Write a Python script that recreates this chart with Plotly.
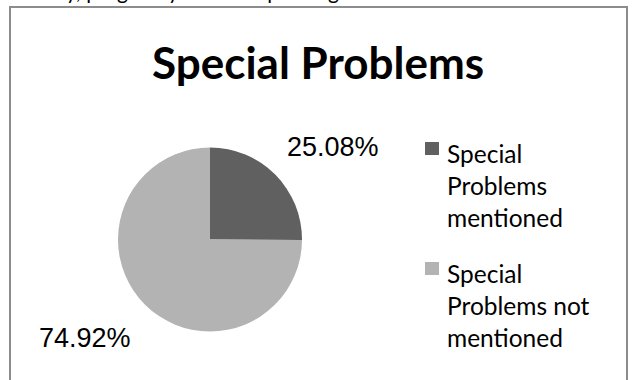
import plotly.graph_objects as go

# ---- data ----
categories = ["Special Problems mentioned", "Special Problems not mentioned"]
legend_labels = ["Special<br>Problems<br>mentioned", "Special<br>Problems not<br>mentioned"]
values = [25.08, 74.92]
colors = ["#606060", "#b3b3b3"]
title_text = "Special Problems"
top_text = "y, program you were speaking"

W, H = 635, 380

def px(x):
    return x / W

def py(y):
    return 1 - y / H

fig = go.Figure()
fig.add_trace(go.Pie(
    labels=categories,
    values=values,
    sort=False,
    direction="clockwise",
    rotation=0,
    textinfo="none",
    hoverinfo="label+percent",
    marker=dict(colors=colors, line=dict(width=0)),
    domain=dict(x=[px(118), px(302)], y=[py(332), py(147)]),
    showlegend=False,
))

total = sum(values)
pct = [f"{v / total * 100:.2f}%" for v in values]
label_pos = [(333, 147.5), (84.5, 337.5)]

annotations = []
for t, (x, y) in zip(pct, label_pos):
    annotations.append(dict(
        text=t, x=px(x), y=py(y), xref="paper", yref="paper",
        xanchor="center", yanchor="middle", showarrow=False,
        font=dict(family="Liberation Sans, Arial", size=27, color="#000000"),
    ))

# title
annotations.append(dict(
    text=f"<b>{title_text}</b>", x=0.5, y=py(62), xref="paper", yref="paper",
    xanchor="center", yanchor="middle", showarrow=False,
    font=dict(family="Lato", size=44, color="#000000"),
))

# cropped text from the page above the chart
annotations.append(dict(
    text=top_text, x=px(64), y=py(5), xref="paper", yref="paper",
    xanchor="left", yanchor="bottom", showarrow=False,
    font=dict(family="Lato", size=21, color="#000000"),
))

shapes = [dict(
    type="rect", xref="paper", yref="paper",
    x0=px(10), x1=px(627), y0=py(400), y1=py(7),
    line=dict(color="#8c8c8c", width=2), fillcolor="rgba(0,0,0,0)",
)]

# legend (symbols + wrapped labels)
leg_top = [142, 262]
for lab, col, yt in zip(legend_labels, colors, leg_top):
    shapes.append(dict(
        type="rect", xref="paper", yref="paper",
        x0=px(425), x1=px(439), y0=py(yt + 13), y1=py(yt),
        line=dict(width=0), fillcolor=col,
    ))
    annotations.append(dict(
        text=lab, x=px(445), y=py(yt - 5), xref="paper", yref="paper",
        xanchor="left", yanchor="top", align="left", showarrow=False,
        font=dict(family="Lato", size=24.5, color="#000000"),
    ))

fig.update_layout(
    width=W, height=H,
    margin=dict(l=0, r=0, t=0, b=0),
    paper_bgcolor="#ffffff",
    plot_bgcolor="#ffffff",
    annotations=annotations,
    shapes=shapes,
    showlegend=False,
)

fig.write_html("out.html")
